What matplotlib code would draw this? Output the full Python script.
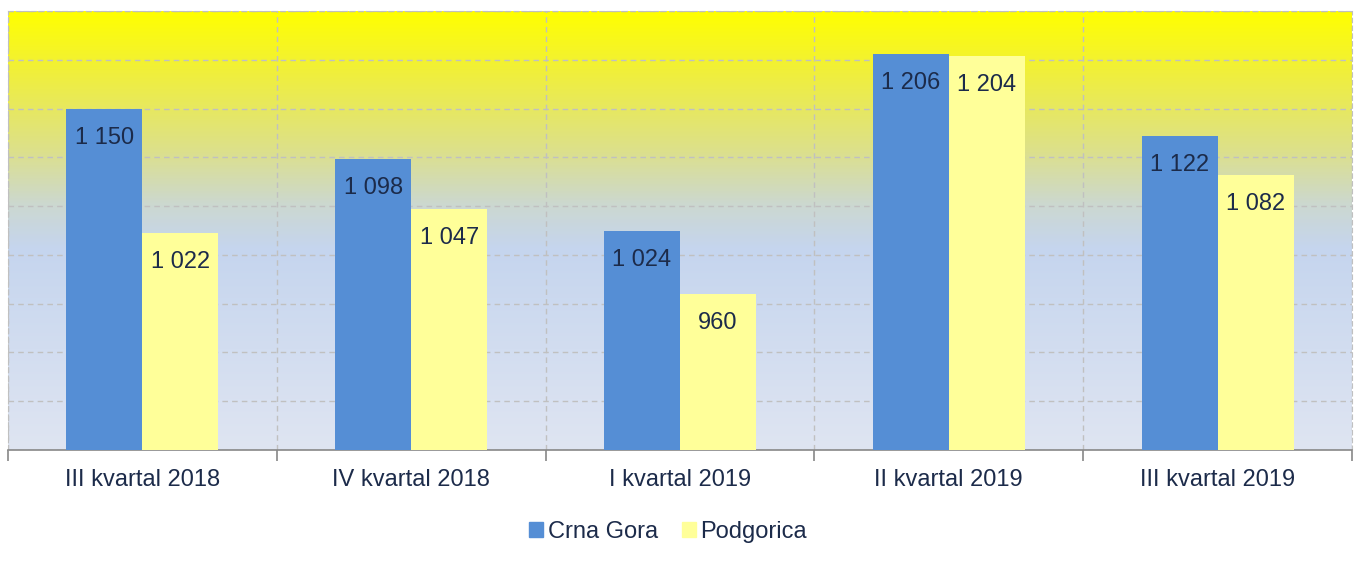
import numpy as np
import matplotlib.pyplot as plt
from matplotlib.colors import LinearSegmentedColormap
from matplotlib.patches import Patch

# data
quarters = ["III kvartal 2018", "IV kvartal 2018", "I kvartal 2019",
            "II kvartal 2019", "III kvartal 2019"]
crna_gora = [1150, 1098, 1024, 1206, 1122]
podgorica = [1022, 1047, 960, 1204, 1082]
series_names = ["Crna Gora", "Podgorica"]
colors = ["#558ED5", "#FFFF99"]
text_color = "#1C2B4A"

plt.rcParams["font.family"] = ["Liberation Sans", "DejaVu Sans"]

fig = plt.figure(figsize=(13.58, 5.71), dpi=100)
ax = fig.add_axes([8 / 1358, 121 / 571, 1344 / 1358, 439 / 571])

# gradient background: yellow at top fading to pale blue
grad = LinearSegmentedColormap.from_list(
    "bg", [(0.0, "#DFE5F2"), (0.46, "#C5D5EE"), (0.56, "#CCD8D0"),
           (0.68, "#DCE08C"), (0.86, "#F0EF3C"), (1.0, "#FFFF00")])
ax.imshow(np.linspace(0, 1, 256).reshape(-1, 1), cmap=grad, aspect="auto",
          origin="lower", extent=[0, 1, 0, 1], transform=ax.transAxes,
          zorder=0)

x = np.arange(len(quarters))
w = 0.283
b1 = ax.bar(x - w / 2, crna_gora, w, color=colors[0], zorder=3)
b2 = ax.bar(x + w / 2, podgorica, w, color=colors[1], zorder=3)

for bars, vals in ((b1, crna_gora), (b2, podgorica)):
    for rect, v in zip(bars, vals):
        ax.annotate(f"{v:,}".replace(",", " "),
                    (rect.get_x() + rect.get_width() / 2, v),
                    xytext=(0, -29), textcoords="offset pixels",
                    ha="center", va="center", fontsize=17,
                    color=text_color, zorder=4)

ax.set_xlim(-0.5, len(quarters) - 0.5)
ax.set_ylim(800, 1250)
ax.set_yticks(np.arange(800, 1251, 50))
ax.set_yticklabels([])
ax.tick_params(axis="y", length=0)

ax.set_xticks(x)
ax.set_xticklabels(quarters, fontsize=17, color=text_color)
ax.set_xticks(np.arange(-0.5, len(quarters), 1), minor=True)
ax.tick_params(axis="x", which="major", length=0, pad=14)
ax.tick_params(axis="x", which="minor", length=8, color="#888888", width=1.2)

ax.grid(axis="y", color="#C0C0C0", linestyle=(0, (4, 3)), linewidth=1, zorder=1)
ax.grid(axis="x", which="minor", color="#C0C0C0", linestyle=(0, (4, 3)),
        linewidth=1, zorder=1)

for side in ("left", "right", "top"):
    ax.spines[side].set_color("#C0C0C0")
    ax.spines[side].set_linestyle((0, (4, 3)))
ax.spines["bottom"].set_color("#888888")
ax.spines["bottom"].set_linewidth(1.2)

handles = [Patch(color=c, label=n) for c, n in zip(colors, series_names)]
leg = fig.legend(handles=handles, loc="center", bbox_to_anchor=(0.492, 0.068),
                 ncol=2, frameon=False, fontsize=17, handlelength=0.6,
                 handleheight=0.6, handletextpad=0.2, columnspacing=1.0)
for t in leg.get_texts():
    t.set_color(text_color)

fig.savefig("out.png", dpi=100)
